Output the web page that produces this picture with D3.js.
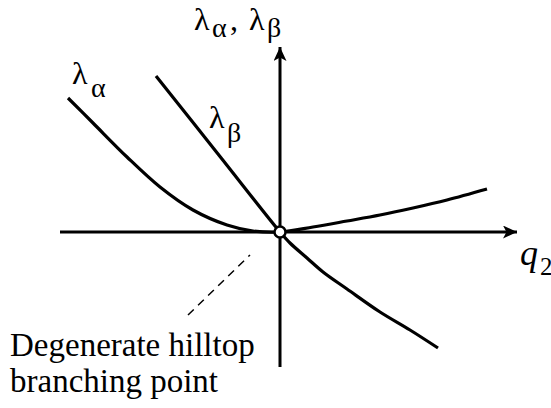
<!DOCTYPE html>
<html>
<head>
<meta charset="utf-8">
<script src="https://cdn.jsdelivr.net/npm/d3@7"></script>
<style>
  html, body { margin: 0; padding: 0; background: #fff; }
  svg { display: block; }
  svg text { font-family: "Liberation Serif", "Times New Roman", Times, serif; }
</style>
</head>
<body>
<svg id="chart" width="551" height="408"></svg>
<script>
// Eigenvalue branches near the degenerate hilltop point (q2 = 0)
const alphaQ      = [-2.12, -1.87, -1.53, -1.20, -0.87, -0.53, -0.27, 0, 0.33, 0.67, 1.00, 1.33, 1.67, 2.07];
const alphaLambda = [ 1.34,  1.09,  0.75,  0.45,  0.22,  0.07,  0.01, 0, 0.05, 0.11, 0.17, 0.24, 0.32, 0.43];

const betaQ      = [-1.24, -0.60, 0, 0.10, 0.27, 0.43, 0.67, 1.00, 1.30, 1.58];
const betaLambda = [ 1.56,  0.755, 0, -0.11, -0.26, -0.40, -0.57, -0.80, -0.98, -1.16];

// Leader line from the label to the branching point
const leaderQ      = [-0.92, -0.30];
const leaderLambda = [-0.83, -0.23];

// Axis extents
const qExtent      = [-2.20, 2.37];
const lambdaExtent = [-1.35, 1.85];

const svg = d3.select("#chart");

const x = d3.scaleLinear().domain(qExtent).range([60, 517]);
const y = d3.scaleLinear().domain(lambdaExtent).range([367, 47]);

const line = d3.line()
  .x(d => x(d[0]))
  .y(d => y(d[1]))
  .curve(d3.curveCatmullRom.alpha(0.5));

// Arrow marker for the axes
const defs = svg.append("defs");
defs.append("marker")
  .attr("id", "arrow")
  .attr("viewBox", "0 0 14 13")
  .attr("refX", 14).attr("refY", 6.5)
  .attr("markerWidth", 14).attr("markerHeight", 13)
  .attr("markerUnits", "userSpaceOnUse")
  .attr("orient", "auto")
  .append("path")
  .attr("d", "M0,0 L14,6.5 L0,13 L3.5,6.5 Z")
  .attr("fill", "#000");

// Horizontal axis (q2)
svg.append("line")
  .attr("x1", x(qExtent[0])).attr("y1", y(0))
  .attr("x2", x(qExtent[1])).attr("y2", y(0))
  .attr("stroke", "#000").attr("stroke-width", 3)
  .attr("marker-end", "url(#arrow)");

// Vertical axis (λ)
svg.append("line")
  .attr("x1", x(0)).attr("y1", y(lambdaExtent[0]))
  .attr("x2", x(0)).attr("y2", y(lambdaExtent[1]))
  .attr("stroke", "#000").attr("stroke-width", 3)
  .attr("marker-end", "url(#arrow)");

// Leader line (dashed)
svg.append("path")
  .datum(d3.zip(leaderQ, leaderLambda))
  .attr("d", d3.line().x(d => x(d[0])).y(d => y(d[1])))
  .attr("fill", "none")
  .attr("stroke", "#000")
  .attr("stroke-width", 1.5)
  .attr("stroke-dasharray", "8,6");

// λα and λβ branches
svg.append("path")
  .datum(d3.zip(alphaQ, alphaLambda))
  .attr("d", line)
  .attr("fill", "none").attr("stroke", "#000").attr("stroke-width", 3.2);

svg.append("path")
  .datum(d3.zip(betaQ, betaLambda))
  .attr("d", line)
  .attr("fill", "none").attr("stroke", "#000").attr("stroke-width", 3.2);

// Branching point
svg.append("circle")
  .attr("cx", x(0)).attr("cy", y(0)).attr("r", 5.5)
  .attr("fill", "#fff").attr("stroke", "#000").attr("stroke-width", 2.5);

// Text runs: [text, x, baseline, size, italic]
function label(runs) {
  const t = svg.append("text");
  runs.forEach(([s, px, py, size, italic]) => {
    t.append("tspan")
      .attr("x", px).attr("y", py)
      .attr("font-size", size)
      .attr("font-style", italic ? "italic" : null)
      .text(s);
  });
  return t;
}

// Axis title λα, λβ
label([
  ["λ", 194, 30, 32], ["α", 212, 37, 28], [",", 230, 30, 32],
  ["λ", 249, 30, 32], ["β", 267, 37, 28]
]);

// Branch labels
label([["λ", 72, 84, 32], ["α", 91, 97, 28]]);
label([["λ", 209, 128, 32], ["β", 227, 142, 28]]);

// q2 axis label
label([["q", 520, 265, 36, true], ["2", 540, 275, 25]]);

// Annotation
label([
  ["Degenerate hilltop", 10, 356, 33],
  ["branching point", 10, 392, 33]
]);
</script>
</body>
</html>
